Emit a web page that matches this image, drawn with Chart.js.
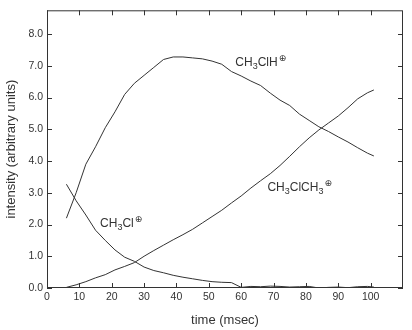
<!DOCTYPE html>
<html>
<head>
<meta charset="utf-8">
<script src="https://cdn.jsdelivr.net/npm/chart.js@4/dist/chart.umd.min.js"></script>
<style>
  html, body { margin: 0; padding: 0; background: #fff; }
  #chart { display: block; }
</style>
</head>
<body>
<canvas id="chart" width="412" height="330"></canvas>
<script>
const times = [6, 9, 12, 15, 18, 21, 24, 27, 30, 33, 36, 39, 42, 45, 48, 51, 54, 57, 60,
    63, 66, 69, 72, 75, 78, 81, 84, 87, 90, 93, 96, 99, 101];

const ch3clh = [2.2, 3.0, 3.9, 4.45, 5.05, 5.55, 6.1, 6.45, 6.7, 6.95, 7.2, 7.28, 7.28,
    7.25, 7.22, 7.15, 7.05, 6.82, 6.68, 6.52, 6.38, 6.14, 5.92, 5.75, 5.48, 5.28, 5.08,
    4.93, 4.76, 4.6, 4.42, 4.25, 4.16];

const ch3clch3 = [0.02, 0.1, 0.2, 0.32, 0.42, 0.57, 0.68, 0.8, 1.0, 1.18, 1.35, 1.52,
    1.68, 1.85, 2.05, 2.25, 2.45, 2.68, 2.9, 3.15, 3.38, 3.6, 3.86, 4.15, 4.45, 4.73,
    4.98, 5.2, 5.42, 5.68, 5.96, 6.15, 6.24];

const ch3cl = [3.27, 2.75, 2.3, 1.82, 1.5, 1.2, 0.97, 0.84, 0.66, 0.55, 0.48, 0.4, 0.34,
    0.29, 0.24, 0.2, 0.18, 0.17, 0.02, 0.05, 0.04, 0.06, 0.05, 0.03, 0.04, 0.05, 0.0,
    0.02, 0.03, 0.01, 0.04, 0.05, 0.03];

const xTicks = [0, 10, 20, 30, 40, 50, 60, 70, 80, 90, 100];
const yTicks = [0, 1, 2, 3, 4, 5, 6, 7, 8];

// curve labels: [parts, time, intensity]
const curveLabels = [
    [["CH", "3", "ClH"], 58.2, 7.1],
    [["CH", "3", "ClCH", "3"], 68.1, 3.16],
    [["CH", "3", "Cl"], 16.4, 2.03],
];

const ink = "#333";

function toPoints(vals) {
    return vals.map((v, i) => ({ x: times[i], y: v }));
}

const frame = {
    id: "frame",
    afterDraw(chart) {
        const ctx = chart.ctx;
        const a = chart.chartArea;
        const xs = chart.scales.x;
        const ys = chart.scales.y;
        ctx.save();
        ctx.strokeStyle = ink;
        ctx.lineWidth = 1;
        ctx.strokeRect(a.left + 0.5, a.top + 0.5, a.right - a.left - 1, a.bottom - a.top - 1);
        ctx.beginPath();
        xTicks.forEach((t) => {
            const px = Math.round(xs.getPixelForValue(t)) + 0.5;
            ctx.moveTo(px, a.bottom);
            ctx.lineTo(px, a.bottom - 5);
            ctx.moveTo(px, a.top);
            ctx.lineTo(px, a.top + 5);
        });
        yTicks.forEach((t) => {
            const py = Math.round(ys.getPixelForValue(t)) + 0.5;
            ctx.moveTo(a.left, py);
            ctx.lineTo(a.left + 5, py);
            ctx.moveTo(a.right, py);
            ctx.lineTo(a.right - 5, py);
        });
        ctx.stroke();

        // curve names with subscripts and circled plus
        ctx.fillStyle = ink;
        ctx.textBaseline = "middle";
        curveLabels.forEach(([parts, t, v]) => {
            let px = xs.getPixelForValue(t);
            const py = ys.getPixelForValue(v);
            parts.forEach((p, i) => {
                const sub = i % 2 === 1;
                ctx.font = sub ? "9px 'Liberation Sans', Arial" : "12px 'Liberation Sans', Arial";
                ctx.fillText(p, px, sub ? py + 4 : py);
                px += ctx.measureText(p).width;
            });
            ctx.font = "9px 'DejaVu Sans'";
            ctx.fillText("\u2295", px + 1, py - 4);
        });
        ctx.restore();
    },
};

new Chart(document.getElementById("chart"), {
    type: "line",
    data: {
        datasets: [
            { label: "CH3ClH+", data: toPoints(ch3clh) },
            { label: "CH3ClCH3+", data: toPoints(ch3clch3) },
            { label: "CH3Cl+", data: toPoints(ch3cl) },
        ],
    },
    options: {
        responsive: false,
        animation: false,
        events: [],
        layout: { padding: { top: 8, right: 9, left: 0, bottom: 0 } },
        elements: {
            line: { borderColor: ink, borderWidth: 1, tension: 0 },
            point: { radius: 0 },
        },
        plugins: {
            legend: { display: false },
            tooltip: { enabled: false },
        },
        scales: {
            x: {
                type: "linear",
                min: 0,
                max: 110,
                grid: { display: false, drawTicks: false },
                border: { display: false },
                afterBuildTicks: (scale) => {
                    scale.ticks = xTicks.map((v) => ({ value: v }));
                },
                afterFit: (scale) => {
                    scale.height = 42;
                },
                ticks: {
                    color: ink,
                    padding: 3,
                    maxRotation: 0,
                    font: { family: "'Liberation Sans', Arial", size: 10.5 },
                },
                title: {
                    display: true,
                    text: "time (msec)",
                    color: ink,
                    padding: { top: 4, bottom: 2 },
                    font: { family: "'Liberation Sans', Arial", size: 13 },
                },
            },
            y: {
                min: 0,
                max: 8.75,
                grid: { display: false, drawTicks: false },
                border: { display: false },
                afterBuildTicks: (scale) => {
                    scale.ticks = yTicks.map((v) => ({ value: v }));
                },
                afterFit: (scale) => {
                    scale.width = 47;
                },
                ticks: {
                    color: ink,
                    padding: 4,
                    font: { family: "'Liberation Sans', Arial", size: 10.5 },
                    callback: (v) => Number(v).toFixed(1),
                },
                title: {
                    display: true,
                    text: "intensity (arbitrary units)",
                    color: ink,
                    padding: { top: 4, bottom: 0 },
                    font: { family: "'Liberation Sans', Arial", size: 13 },
                },
            },
        },
    },
    plugins: [frame],
});
</script>
</body>
</html>
